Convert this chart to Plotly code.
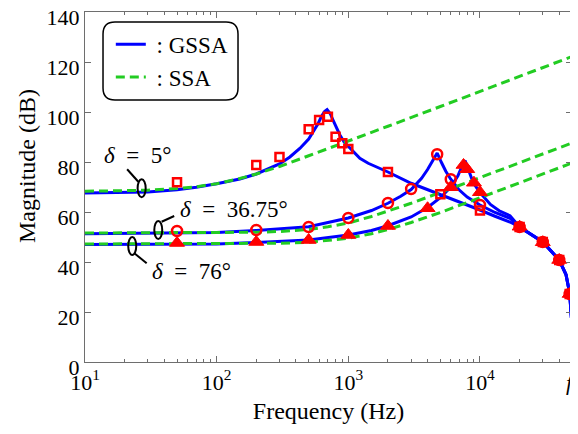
import numpy as np
import plotly.graph_objects as go

# ---------------- data ----------------
FS = 50000  # switching frequency f_s (right edge of the axis)

# GSSA (blue solid) curves
gssa5_f = [10, 20, 30, 50, 70, 100, 150, 200, 300, 360, 430, 500, 540, 590, 626, 660, 690,
           730, 767, 820, 863, 930, 1028, 1224, 1416, 2000, 3000, 4000, 5000, 7000, 10000,
           13000, 16900, 20000, 30000, 40000, 45000, 48000, 49500]
gssa5_db = [67.6, 67.7, 68.0, 68.9, 69.9, 71.3, 73.2, 75.2, 79.2, 82.0, 85.5, 89.2, 91.9, 95.4,
            98.3, 100.2, 101.0, 99.3, 96.6, 93.2, 90.8, 88.0, 85.5, 81.5, 79.5, 76.0, 71.5,
            69.0, 66.9, 63.9, 60.8, 58.3, 56.0, 54.0, 48.0, 40.8, 35.0, 27.5, 17.5]

gssa36_f = [10, 50, 100, 200, 500, 1000, 1500, 2000, 2500, 3000, 3600, 4000, 4400, 4730,
            5100, 5500, 5980, 6900, 8000, 10000, 13000, 16900, 20000, 30000, 40000, 45000,
            48000, 49500]
gssa36_db = [51.3, 51.5, 51.8, 52.6, 54.1, 57.6, 60.6, 63.5, 66.3, 69.0, 73.5, 77.0, 80.6,
             83.6, 79.8, 76.3, 73.2, 69.0, 66.0, 62.8, 59.8, 57.5, 54.0, 48.0, 40.8, 35.0,
             27.5, 17.5]

gssa76_f = [10, 100, 200, 500, 1000, 1500, 2000, 3000, 4000, 5000, 6000, 6800, 7400, 7700,
            8130, 8870, 10000, 12000, 14000, 16900, 20000, 30000, 40000, 45000, 48000, 49500]
gssa76_db = [47.0, 47.2, 47.8, 48.8, 50.8, 52.6, 54.5, 58.0, 61.8, 65.7, 70.0, 74.5, 79.0,
             80.6, 77.3, 71.8, 67.8, 63.0, 60.5, 58.5, 54.0, 48.0, 40.8, 35.0, 27.5, 17.5]

# SSA (green dashed) curves
ssa5_f = [10, 20, 30, 50, 70, 100, 150, 200, 300, 500, 1000, 2000, 5000, 10000, 20000, 50000]
ssa5_db = [68.3, 68.5, 68.7, 69.4, 70.1, 71.3, 73.4, 75.2, 78.2, 82.5, 88.3, 94.3, 102.2,
           108.2, 114.2, 122.2]

ssa36_f = [10, 100, 200, 300, 500, 700, 1000, 1500, 2000, 3000, 5000, 10000, 20000, 50000]
ssa36_db = [51.6, 51.7, 51.9, 52.2, 53.0, 54.1, 55.6, 58.2, 60.3, 63.5, 67.8, 73.7, 79.7, 87.6]

ssa76_f = [10, 100, 300, 500, 1000, 1500, 2000, 3000, 5000, 10000, 20000, 50000]
ssa76_db = [47.2, 47.3, 47.5, 47.9, 49.5, 51.3, 53.0, 55.8, 59.8, 65.7, 71.6, 79.6]

# Red markers (simulation points)
sq_f = [50, 200, 300, 500, 600, 700, 800, 900, 1000, 2000, 5000, 10000, 20000, 30000, 40000, 48000]
sq_db = [71.9, 78.8, 82.0, 93.1, 96.8, 98.1, 90.1, 87.5, 85.2, 76.0, 67.1, 60.6, 54.0, 48.0, 40.8, 27.2]

ci_f = [50, 200, 500, 1000, 2000, 3000, 4730, 6000, 10000, 20000, 30000, 40000, 48000]
ci_db = [52.4, 52.8, 54.0, 57.6, 63.6, 69.2, 83.1, 73.1, 62.8, 54.0, 48.0, 40.8, 27.2]

tr_f = [50, 200, 500, 1000, 2000, 4000, 6000, 7500, 8000, 9000, 10000, 20000, 30000, 40000, 48000]
tr_db = [47.6, 48.0, 48.8, 50.8, 54.4, 61.5, 69.9, 78.8, 77.1, 71.7, 67.9, 54.1, 47.9, 40.8, 27.2]

x_tickvals = [10, 100, 1000, 10000, FS]
x_ticktext = ["10<sup>1</sup>", "10<sup>2</sup>", "10<sup>3</sup>", "10<sup>4</sup>",
              "<i>f</i><sub>s</sub>"]
x_minor = [20, 30, 40, 50, 60, 70, 80, 90, 200, 300, 400, 500, 600, 700, 800, 900,
           2000, 3000, 4000, 5000, 6000, 7000, 8000, 9000, 20000, 30000, 40000]

# ---------------- styles ----------------
BLUE = "#0000FF"
GREEN = "#22CC22"
RED = "#FF0000"
FONT = "Liberation Serif"
AX = "#6e6e6e"

fig = go.Figure()

for i, (f, d) in enumerate([(gssa5_f, gssa5_db), (gssa36_f, gssa36_db), (gssa76_f, gssa76_db)]):
    fig.add_trace(go.Scatter(x=f, y=d, mode="lines", line=dict(color=BLUE, width=3),
                             name=" : GSSA", showlegend=(i == 0), legendgroup="g"))
for i, (f, d) in enumerate([(ssa5_f, ssa5_db), (ssa36_f, ssa36_db), (ssa76_f, ssa76_db)]):
    fig.add_trace(go.Scatter(x=f, y=d, mode="lines",
                             line=dict(color=GREEN, width=3, dash="9px,5px"),
                             name=" : SSA", showlegend=(i == 0), legendgroup="s"))

fig.add_trace(go.Scatter(x=sq_f, y=sq_db, mode="markers", showlegend=False, cliponaxis=False,
                         marker=dict(symbol="square-open", size=8, color=RED,
                                     line=dict(color=RED, width=2.5))))
fig.add_trace(go.Scatter(x=ci_f, y=ci_db, mode="markers", showlegend=False, cliponaxis=False,
                         marker=dict(symbol="circle-open", size=10, color=RED,
                                     line=dict(color=RED, width=2.5))))
fig.add_trace(go.Scatter(x=tr_f, y=tr_db, mode="markers", showlegend=False, cliponaxis=False,
                         marker=dict(symbol="triangle-up", size=13, color=RED,
                                     line=dict(color=RED, width=1))))

# ---------------- annotation ellipses & leaders (data coords) ----------------
shapes = []
ell = [(25.1, 28.9, 65.9, 73.1), (33.6, 38.6, 49.2, 56.4), (21.3, 24.5, 42.8, 50.0)]
for x0, x1, y0, y1 in ell:
    shapes.append(dict(type="circle", xref="x", yref="y", x0=x0, x1=x1, y0=y0, y1=y1,
                       line=dict(color="black", width=2)))
leads = [(20.9, 25.4, 77.1, 72.1), (38.2, 47.6, 56.1, 58.4), (23.7, 29.4, 43.5, 39.5)]
for x0, x1, y0, y1 in leads:
    shapes.append(dict(type="line", xref="x", yref="y", x0=x0, x1=x1, y0=y0, y1=y1,
                       line=dict(color="black", width=2)))

# rounded legend box (paper coords)
x0, x1, yb, yt = 0.037, 0.3142, 0.7486, 0.9714
rx, ry = 0.0246, 0.0343
path = (f"M {x0+rx},{yt} L {x1-rx},{yt} Q {x1},{yt} {x1},{yt-ry} L {x1},{yb+ry} "
        f"Q {x1},{yb} {x1-rx},{yb} L {x0+rx},{yb} Q {x0},{yb} {x0},{yb+ry} "
        f"L {x0},{yt-ry} Q {x0},{yt} {x0+rx},{yt} Z")
shapes.append(dict(type="path", xref="paper", yref="paper", path=path,
                   line=dict(color="black", width=1.5), fillcolor="rgba(0,0,0,0)"))

annots = [
    dict(x=np.log10(25.2), y=82.8, text="<i>δ</i>\u2002=\u20025°"),
    dict(x=np.log10(136), y=61.2, text="<i>δ</i>\u2002=\u200236.75°"),
    dict(x=np.log10(64.4), y=36.4, text="<i>δ</i>\u2002=\u200276°"),
]
for a in annots:
    fig.add_annotation(x=a["x"], y=a["y"], xref="x", yref="y", text=a["text"],
                       showarrow=False, xanchor="center", yanchor="middle",
                       font=dict(family=FONT, size=23, color="black"))

# y-axis title (placed like the reference, slightly above the axis centre)
fig.add_annotation(x=0, y=0.56, xref="paper", yref="paper", xshift=-58,
                   text="Magnitude (dB)", textangle=-90, showarrow=False,
                   xanchor="center", yanchor="middle",
                   font=dict(family=FONT, size=24, color="black"))

# the page adds an 8 px body margin, so the figure is 8 px smaller than the window
fig.update_layout(
    width=570, height=426,
    margin=dict(l=77, r=6, t=4, b=72),
    paper_bgcolor="white", plot_bgcolor="white",
    font=dict(family=FONT, size=22, color="black"),
    shapes=shapes,
    showlegend=True,
    legend=dict(x=0.053, y=0.9693, xanchor="left", yanchor="top",
                bgcolor="rgba(0,0,0,0)", borderwidth=0,
                font=dict(family=FONT, size=23, color="black"),
                traceorder="grouped", tracegroupgap=0, itemwidth=30),
    xaxis=dict(type="log", range=[1, np.log10(FS)], tickmode="array",
               tickvals=x_tickvals, ticktext=x_ticktext, automargin=False,
               ticklabeloverflow="allow",
               ticks="inside", ticklen=6, tickcolor=AX, tickwidth=1,
               showline=True, linecolor=AX, linewidth=1.3, mirror="ticks",
               showgrid=False, zeroline=False,
               tickfont=dict(family=FONT, size=22),
               minor=dict(tickmode="array", tickvals=x_minor, ticks="inside", ticklen=3,
                          tickcolor=AX, showgrid=False),
               title=dict(text="Frequency (Hz)", standoff=6,
                          font=dict(family=FONT, size=24))),
    yaxis=dict(range=[0, 140], tickmode="linear", tick0=0, dtick=20, automargin=False,
               ticklabeloverflow="allow", ticklabelshift=5,
               ticks="inside", ticklen=6, tickcolor=AX, tickwidth=1,
               showline=True, linecolor=AX, linewidth=1.3, mirror="ticks",
               showgrid=False, zeroline=False,
               tickfont=dict(family=FONT, size=22)),
)

fig.write_html("out.html")
